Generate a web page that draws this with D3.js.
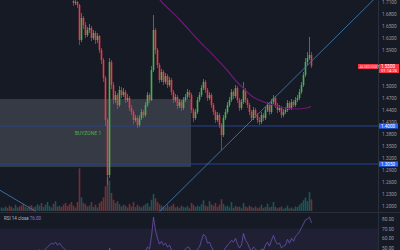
<!DOCTYPE html>
<html>
<head>
<meta charset="utf-8">
<script src="https://cdn.jsdelivr.net/npm/d3@7"></script>
<style>
  html, body { margin: 0; padding: 0; background: #161a25; }
  svg { display: block; font-family: Roboto, "Liberation Sans", sans-serif; }
</style>
</head>
<body>
<div id="chart"></div>
<script>
// candles (first visible bar sits at index 36, earlier bars are above the view)
var firstCandle = 36,
    firstOpen = 1.7125;

var closes = [1.7075,1.7100,1.7025,1.6150,1.6700,1.6525,1.6275,1.6400,1.6450,1.6200,
  1.6325,1.6150,1.6250,1.5900,1.5650,1.5200,1.4150,1.2775,1.5600,1.5025,
  1.4650,1.4775,1.4525,1.4900,1.4775,1.4850,1.4650,1.4700,1.4450,1.4350,
  1.4150,1.4200,1.4025,1.4200,1.4350,1.4275,1.4525,1.4775,1.4650,1.5400,
  1.6400,1.5900,1.5525,1.5150,1.5350,1.5100,1.5250,1.5025,1.5150,1.4850,
  1.4650,1.4725,1.4500,1.4600,1.4450,1.4650,1.4725,1.4850,1.4775,1.4400,
  1.4200,1.4350,1.4650,1.4775,1.4950,1.5100,1.4900,1.4700,1.4775,1.4525,
  1.4350,1.4150,1.4275,1.4025,1.3775,1.4200,1.4350,1.4525,1.4650,1.4850,
  1.4750,1.4950,1.4650,1.4450,1.4600,1.4900,1.4650,1.4525,1.4350,1.4200,
  1.4400,1.4275,1.4150,1.4100,1.4275,1.4200,1.4400,1.4525,1.4350,1.4600,
  1.4700,1.4525,1.4400,1.4450,1.4275,1.4350,1.4400,1.4575,1.4450,1.4600,
  1.4525,1.4650,1.4700,1.4850,1.5025,1.5275,1.5600,1.5700,1.5775,1.5500];

var highs = [1.7150,1.7150,1.7125,1.7050,1.6825,1.6750,1.6600,1.6475,1.6550,1.6500,
  1.6400,1.6375,1.6325,1.6275,1.5950,1.5700,1.5250,1.4200,1.5700,1.5650,
  1.5100,1.4875,1.4825,1.5000,1.4975,1.4950,1.4900,1.4800,1.4750,1.4525,
  1.4400,1.4275,1.4250,1.4275,1.4425,1.4400,1.4600,1.4850,1.4825,1.5500,
  1.6775,1.6450,1.5950,1.5575,1.5425,1.5400,1.5325,1.5300,1.5225,1.5200,
  1.4900,1.4800,1.4775,1.4675,1.4650,1.4725,1.4800,1.4925,1.4900,1.4825,
  1.4450,1.4425,1.4725,1.4850,1.5025,1.5175,1.5150,1.4950,1.4850,1.4825,
  1.4575,1.4400,1.4350,1.4325,1.4075,1.4275,1.4425,1.4600,1.4725,1.4925,
  1.4900,1.5025,1.5000,1.4700,1.4675,1.5100,1.4950,1.4700,1.4575,1.4400,
  1.4475,1.4450,1.4325,1.4225,1.4350,1.4325,1.4475,1.4600,1.4575,1.4675,
  1.4775,1.4750,1.4575,1.4525,1.4500,1.4425,1.4475,1.4650,1.4625,1.4675,
  1.4650,1.4725,1.4775,1.4925,1.5100,1.5350,1.5700,1.5850,1.6225,1.5850];

var lows = [1.7000,1.7025,1.6950,1.6025,1.6100,1.6425,1.6200,1.6225,1.6325,1.6125,
  1.6150,1.6050,1.6075,1.5825,1.5550,1.5100,1.4000,1.2525,1.2700,1.4925,
  1.4550,1.4575,1.4425,1.4475,1.4700,1.4725,1.4575,1.4600,1.4375,1.4275,
  1.4050,1.4100,1.3950,1.3975,1.4150,1.4200,1.4225,1.4475,1.4575,1.4625,
  1.5350,1.5800,1.5450,1.5075,1.5100,1.5025,1.5050,1.4950,1.4975,1.4775,
  1.4575,1.4600,1.4425,1.4450,1.4375,1.4400,1.4600,1.4675,1.4700,1.4325,
  1.4100,1.4150,1.4300,1.4600,1.4725,1.4900,1.4825,1.4625,1.4650,1.4450,
  1.4275,1.4075,1.4100,1.3950,1.3400,1.3725,1.4150,1.4300,1.4475,1.4600,
  1.4675,1.4700,1.4575,1.4375,1.4400,1.4550,1.4575,1.4450,1.4275,1.4125,
  1.4150,1.4200,1.4075,1.4025,1.4050,1.4125,1.4150,1.4350,1.4275,1.4300,
  1.4550,1.4450,1.4325,1.4350,1.4200,1.4225,1.4300,1.4350,1.4400,1.4400,
  1.4475,1.4475,1.4600,1.4650,1.4800,1.4975,1.5225,1.5525,1.5650,1.5450];

// volume and rsi cover the whole window (156 bars)
var volumes = [8,6,10,7,12,9,6,14,8,10,12,16,9,7,11,13,8,10,15,12,
  18,9,14,20,11,8,16,22,10,12,9,14,18,11,15,20,
  12,8,20,95,30,18,15,10,12,20, 9,14,8,18,22,30,55,75,68,40,
  25,18,22,15,10,14,12,8,16,10, 20,9,14,10,8,12,15,18,10,25,
  38,28,20,15,12,10,8,14,9,12, 16,8,10,7,12,9,8,11,6,18,
  14,9,12,10,15,24,12,10,22,15, 12,18,9,14,26,16,10,12,8,20,
  7,12,9,10,6,18,10,8,12,9, 7,10,6,8,14,7,9,16,8,10,
  20,9,6,8,10,5,7,12,6,8, 5,10,9,14,18,24,30,22,42,26];

var rsi = [42,44,45,43,41,40,42,44,46,45,43,42,44,47,46,44,43,45,47,48,
  46,47,49,51,53,55,54,56,53,55,52,50,48,47,46,45,
  46,47,45,32,42,40,37,39,40,37, 39,36,38,34,32,29,24,18,50,45,
  42,44,41,46,45,46,44,45,42,41, 39,40,38,41,44,43,47,51,49,62,
  82,68,60,54,57,53,55,51,53,48, 46,47,44,46,44,47,49,51,50,44,
  41,44,49,51,58,64,62,55,56,51, 47,44,46,42,38,47,50,53,55,58,
  56,60,54,50,53,65,58,55,50,47, 51,49,46,45,49,48,53,56,52,58,
  63,57,54,55,50,52,53,59,55,60, 57,62,64,67,71,75,79,80,82,76];

// drawings
var maIdx = [74.25,79.25,89.25,99.25,105.75,112.75,117.75,120.75,125.75,132.75,139.25,147.75,152.75,154.75],
    maVal = [1.745,1.715,1.665,1.61,1.5775,1.54,1.51,1.495,1.4725,1.4575,1.4475,1.4425,1.445,1.449];
var trendUp = [[79, 1.186], [195, 1.760]],
    trendDown = [[-3, 1.246], [17, 1.1866]];
var zoneIdx = [-1, 94.75],
    zonePrice = [1.4675, 1.2975],
    levels = [1.4000, 1.3050];

var priceTicks = [1.71,1.68,1.65,1.62,1.59,1.50,1.47,1.44,1.41,1.38,1.35,1.32,1.29,1.26,1.23,1.20],
    rsiTicks = [80, 70, 60, 50];

var width = 400, height = 250,
    paneRight = 378, mainBottom = 212, volBase = 211;

var up = "#4caf50", down = "#f23645";

var x = d3.scaleLinear().domain([0, 155]).range([1.5, 311.5]);
var y = d3.scaleLinear().domain([1.715, 1.185]).range([0, 212]);
var vol = d3.scaleLinear().domain([0, 100]).range([0, 45]);
var rsiY = d3.scaleLinear().domain([50, 80]).range([248, 219]);

var svg = d3.select("#chart").append("svg")
    .attr("width", width)
    .attr("height", height);

svg.append("rect").attr("width", width).attr("height", height).attr("fill", "#161a25");

var defs = svg.append("defs");
defs.append("clipPath").attr("id", "mainClip")
  .append("rect").attr("x", 0).attr("y", 0).attr("width", paneRight).attr("height", mainBottom);
defs.append("clipPath").attr("id", "rsiClip")
  .append("rect").attr("x", 0).attr("y", mainBottom + 1).attr("width", paneRight).attr("height", height - mainBottom);

var main = svg.append("g").attr("clip-path", "url(#mainClip)");

// buy zone box
main.append("rect")
  .attr("x", x(zoneIdx[0]))
  .attr("y", y(zonePrice[0]))
  .attr("width", x(zoneIdx[1]) - x(zoneIdx[0]))
  .attr("height", y(zonePrice[1]) - y(zonePrice[0]))
  .attr("fill", "#787b86")
  .attr("fill-opacity", 0.33);

// build bars
var bars = closes.map(function(c, i) {
  return {
    idx: i + firstCandle,
    open: i ? closes[i - 1] : firstOpen,
    close: c,
    high: highs[i],
    low: lows[i]
  };
});

// volume
main.selectAll("rect.vol")
  .data(volumes)
  .enter()
  .append("rect")
  .attr("class", "vol")
  .attr("x", function(d, i) { return x(i) - 0.8; })
  .attr("y", function(d) { return volBase - vol(d); })
  .attr("width", 1.6)
  .attr("height", function(d) { return vol(d); })
  .attr("fill", function(d, i) {
    var isUp;
    if (i >= firstCandle) {
      var b = bars[i - firstCandle];
      isUp = b.close >= b.open;
    } else {
      isUp = i === 0 || rsi[i] >= rsi[i - 1];
    }
    return isUp ? "#26a69a" : "#ef5350";
  })
  .attr("fill-opacity", 0.42);

// horizontal levels
main.selectAll("line.level")
  .data(levels)
  .enter()
  .append("line")
  .attr("class", "level")
  .attr("x1", 0).attr("x2", paneRight)
  .attr("y1", function(d) { return y(d); })
  .attr("y2", function(d) { return y(d); })
  .attr("stroke", "#26438f")
  .attr("stroke-width", 1);

main.append("text")
  .attr("x", 75)
  .attr("y", y(levels[0]) + 8.5)
  .attr("fill", up)
  .style("font-size", "5px")
  .text("BUYZONE 1");

// candles
var candle = main.selectAll("g.candle")
  .data(bars)
  .enter()
  .append("g")
  .attr("class", "candle");

candle.append("line")
  .attr("x1", function(d) { return x(d.idx); })
  .attr("x2", function(d) { return x(d.idx); })
  .attr("y1", function(d) { return y(d.high); })
  .attr("y2", function(d) { return y(d.low); })
  .attr("stroke", function(d) { return d.close >= d.open ? up : down; })
  .attr("stroke-width", 0.7);

candle.append("rect")
  .attr("x", function(d) { return x(d.idx) - 0.8; })
  .attr("y", function(d) { return y(Math.max(d.open, d.close)); })
  .attr("width", 1.6)
  .attr("height", function(d) { return Math.max(0.6, Math.abs(y(d.open) - y(d.close))); })
  .attr("fill", function(d) { return d.close >= d.open ? up : down; });

// moving average
var maLine = d3.line()
  .curve(d3.curveMonotoneX)
  .x(function(d, i) { return x(maIdx[i]); })
  .y(function(d) { return y(d); });

main.append("path")
  .datum(maVal)
  .attr("d", maLine)
  .attr("fill", "none")
  .attr("stroke", "#6c1a72")
  .attr("stroke-width", 1.2);

// trend lines
var seg = d3.line()
  .x(function(d) { return x(d[0]); })
  .y(function(d) { return y(d[1]); });

[trendUp, trendDown].forEach(function(t) {
  main.append("path")
    .datum(t)
    .attr("d", seg)
    .attr("fill", "none")
    .attr("stroke", "#3f77aa")
    .attr("stroke-width", 0.9);
});

// pane separators
svg.append("line")
  .attr("x1", 0).attr("x2", width)
  .attr("y1", mainBottom + 0.5).attr("y2", mainBottom + 0.5)
  .attr("stroke", "#2a2e39");
svg.append("line")
  .attr("x1", paneRight + 0.5).attr("x2", paneRight + 0.5)
  .attr("y1", 0).attr("y2", height)
  .attr("stroke", "#2a2e39");

// rsi pane
var rsiG = svg.append("g").attr("clip-path", "url(#rsiClip)");

rsiG.append("rect")
  .attr("x", 0).attr("y", rsiY(70))
  .attr("width", paneRight).attr("height", height - rsiY(70))
  .attr("fill", "#7e57c2")
  .attr("fill-opacity", 0.1);

rsiG.append("path")
  .datum(rsi)
  .attr("d", d3.line()
    .x(function(d, i) { return x(i); })
    .y(function(d) { return rsiY(d); }))
  .attr("fill", "none")
  .attr("stroke", "#6d52b0")
  .attr("stroke-width", 0.8);

var rsiLabel = svg.append("text")
  .attr("x", 4).attr("y", 219.5)
  .style("font-size", "4.5px");
rsiLabel.append("tspan").attr("fill", "#b2b5be").text("RSI 14 close ");
rsiLabel.append("tspan").attr("fill", "#9575cd").text(d3.format(".2f")(rsi[rsi.length - 1]));

// price axis
var priceAxis = svg.append("g")
  .attr("transform", "translate(" + (paneRight + 4) + ",0)")
  .call(d3.axisRight(y).tickValues(priceTicks).tickSize(0).tickFormat(d3.format(".4f")));
priceAxis.select(".domain").remove();
priceAxis.selectAll("text")
  .attr("x", 0)
  .attr("fill", "#9598a1")
  .style("font-size", "4.8px")
  .style("font-family", "Roboto, sans-serif");

var rsiAxis = svg.append("g")
  .attr("transform", "translate(" + (paneRight + 4) + ",0)")
  .call(d3.axisRight(rsiY).tickValues(rsiTicks).tickSize(0).tickFormat(d3.format(".2f")));
rsiAxis.select(".domain").remove();
rsiAxis.selectAll("text")
  .attr("x", 0)
  .attr("fill", "#9598a1")
  .style("font-size", "4.8px")
  .style("font-family", "Roboto, sans-serif");

// level tags
levels.forEach(function(l) {
  svg.append("rect")
    .attr("x", paneRight + 1).attr("y", y(l) - 2.6)
    .attr("width", 19).attr("height", 5.2)
    .attr("fill", "#2962ff");
  svg.append("text")
    .attr("x", paneRight + 3).attr("y", y(l) + 1.7)
    .attr("fill", "#ffffff")
    .style("font-size", "4.6px")
    .text(d3.format(".4f")(l));
});

// last price tag
var last = closes[closes.length - 1],
    ly = y(last);
svg.append("rect")
  .attr("x", 358).attr("y", ly - 2)
  .attr("width", 20).attr("height", 5)
  .attr("fill", down);
svg.append("text")
  .attr("x", 359.5).attr("y", ly + 1.7)
  .attr("fill", "#ffd6d9")
  .style("font-size", "4px")
  .text("ALGOUSDT");
svg.append("rect")
  .attr("x", paneRight + 1).attr("y", ly - 2)
  .attr("width", 20).attr("height", 9)
  .attr("fill", down);
svg.append("text")
  .attr("x", paneRight + 3).attr("y", ly + 1.8)
  .attr("fill", "#ffffff")
  .style("font-size", "4.6px")
  .text(d3.format(".4f")(last));
svg.append("text")
  .attr("x", paneRight + 3).attr("y", ly + 6)
  .attr("fill", "#ffffff")
  .style("font-size", "4.2px")
  .text("01:14:26");
</script>
</body>
</html>
